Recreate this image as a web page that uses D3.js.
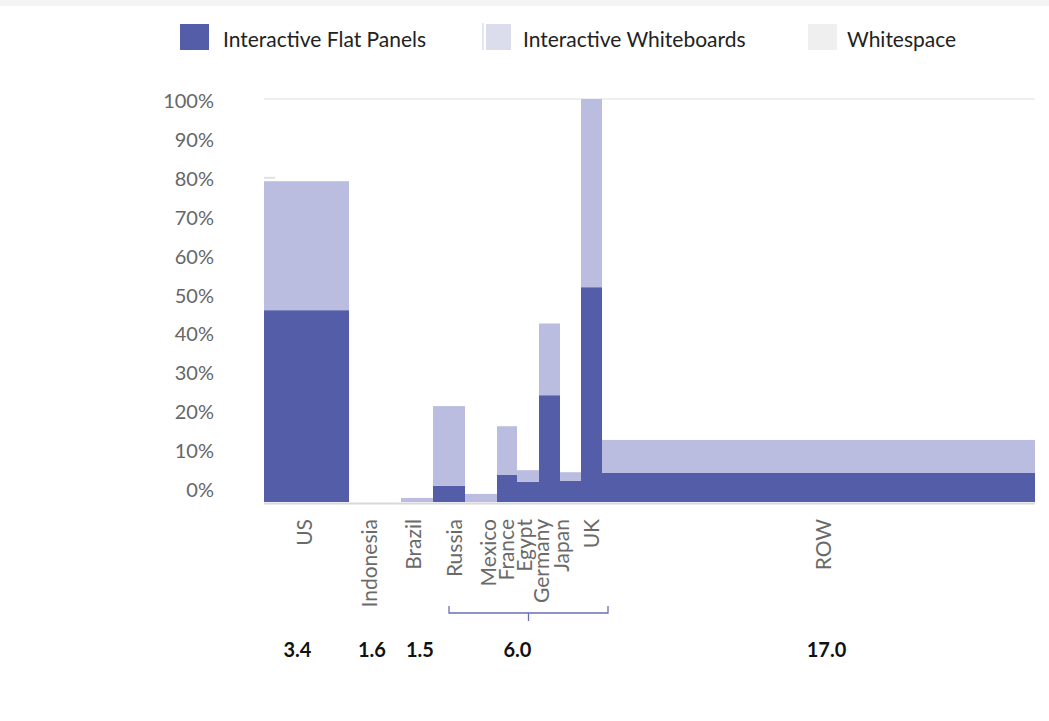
<!DOCTYPE html>
<html>
<head>
<meta charset="utf-8">
<script src="https://d3js.org/d3.v7.min.js"></script>
<style>
  body { margin: 0; background: #fff; }
  text { font-family: Lato, "Open Sans", sans-serif; }
</style>
</head>
<body>
<script>
  // data
  var countries = ["US", "Indonesia", "Brazil", "Russia", "Mexico", "France", "Egypt", "Germany", "Japan", "UK", "ROW"];
  var barWidths = [8.5, 5.2, 3.2, 3.2, 3.2, 2.0, 2.2, 2.1, 2.1, 2.1, 43.3];
  var flatPanels = [47.6, 0, 0, 4.0, 0, 6.7, 5.0, 26.5, 5.3, 53.3, 7.2];
  var whiteboards = [32.0, 0, 1.0, 19.8, 2.0, 12.1, 2.9, 17.8, 2.1, 46.7, 8.2];
  var groupTotals = ["3.4", "1.6", "1.5", "6.0", "17.0"];
  var groupFirst = [0, 1, 2, 3, 10];
  var groupLast = [0, 1, 2, 9, 10];
  var yTicks = [0, 10, 20, 30, 40, 50, 60, 70, 80, 90, 100];
  var legendNames = ["Interactive Flat Panels", "Interactive Whiteboards", "Whitespace"];

  var width = 1049, height = 721;
  var dark = "#535da8", light = "#babde0";

  var svg = d3.select("body").append("svg")
    .attr("width", width)
    .attr("height", height);

  // faint band at the very top
  svg.append("rect").attr("x", 0).attr("y", 0).attr("width", width).attr("height", 6).attr("fill", "#f4f4f4");

  // cumulative x positions for the mekko bars
  var starts = [];
  var acc = 0;
  barWidths.forEach(function (w) { starts.push(acc); acc += w; });

  var x = d3.scaleLinear().domain([0, acc]).range([264, 1035]);
  var y = d3.scaleLinear().domain([0, 100]).range([502, 99]);        // bars
  var yLab = d3.scaleLinear().domain([0, 100]).range([489, 100]);    // tick labels

  // top gridline + small stub
  svg.append("line").attr("x1", 264).attr("x2", 1035).attr("y1", yLab(100) - 1).attr("y2", yLab(100) - 1)
    .attr("stroke", "#dedede").attr("stroke-width", 1);
  svg.append("line").attr("x1", 264).attr("x2", 275).attr("y1", yLab(80)).attr("y2", yLab(80))
    .attr("stroke", "#e2e2e2").attr("stroke-width", 2);

  // y tick labels
  svg.append("g").selectAll("text")
    .data(yTicks)
    .enter()
    .append("text")
    .attr("x", 214)
    .attr("y", function (d) { return yLab(d); })
    .attr("text-anchor", "end")
    .attr("dominant-baseline", "central")
    .style("font-size", "20px")
    .style("fill", "#666")
    .text(function (d) { return d + "%"; });

  // baseline
  svg.append("line").attr("x1", 264).attr("x2", 1035).attr("y1", 503.5).attr("y2", 503.5)
    .attr("stroke", "#d8d8de").attr("stroke-width", 2);

  var bars = svg.append("g");
  // flat panels (bottom)
  bars.selectAll("rect.fp")
    .data(countries)
    .enter()
    .append("rect")
    .attr("class", "fp")
    .attr("x", function (d, i) { return x(starts[i]); })
    .attr("width", function (d, i) { return x(starts[i] + barWidths[i]) - x(starts[i]); })
    .attr("y", function (d, i) { return y(flatPanels[i]); })
    .attr("height", function (d, i) { return y(0) - y(flatPanels[i]); })
    .attr("fill", dark);
  // whiteboards stacked on top
  bars.selectAll("rect.wb")
    .data(countries)
    .enter()
    .append("rect")
    .attr("class", "wb")
    .attr("x", function (d, i) { return x(starts[i]); })
    .attr("width", function (d, i) { return x(starts[i] + barWidths[i]) - x(starts[i]); })
    .attr("y", function (d, i) { return y(flatPanels[i] + whiteboards[i]); })
    .attr("height", function (d, i) { return y(flatPanels[i]) - y(flatPanels[i] + whiteboards[i]); })
    .attr("fill", light);

  // country labels, rotated
  var labelNudge = [-3.5, -7, -5, 4, 6, -2, -5, -9.5, -10.5, -1.5, 3.5];
  svg.append("g").selectAll("text")
    .data(countries)
    .enter()
    .append("text")
    .attr("transform", function (d, i) {
      var cx = x(starts[i] + barWidths[i] / 2) + labelNudge[i];
      return "translate(" + cx + ",519) rotate(-90)";
    })
    .attr("text-anchor", "end")
    .attr("dominant-baseline", "central")
    .style("font-size", "21px")
    .style("fill", "#6a6a6a")
    .text(function (d) { return d; });

  // bracket for the grouped countries
  groupFirst.forEach(function (f, g) {
    var l = groupLast[g];
    if (l === f) return;
    var x1 = x(starts[f] + barWidths[f] / 2);
    var x2 = x(starts[l] + barWidths[l]) + 6;
    var xm = (x1 + x2) / 2;
    svg.append("path")
      .attr("d", "M" + x1 + ",606 V613 H" + x2 + " V606 M" + xm + ",613 V621")
      .attr("fill", "none")
      .attr("stroke", "#6870b4")
      .attr("stroke-width", 1.3);
  });

  // group totals
  var totalNudge = [-9, -3, 3, 0, 8];
  svg.append("g").selectAll("text")
    .data(groupTotals)
    .enter()
    .append("text")
    .attr("x", function (d, g) {
      var a = x(starts[groupFirst[g]]);
      var b = x(starts[groupLast[g]] + barWidths[groupLast[g]]);
      return (a + b) / 2 + totalNudge[g];
    })
    .attr("y", 649)
    .attr("text-anchor", "middle")
    .attr("dominant-baseline", "central")
    .style("font-size", "20px")
    .style("font-weight", "bold")
    .style("fill", "#111")
    .text(function (d) { return d; });

  // legend
  var legendColors = [dark, "#dcddec", "#efefef"];
  var legendX = [180, 486, 808];
  var legendTextX = [223, 523, 847];
  var legend = svg.append("g");
  legendNames.forEach(function (name, i) {
    legend.append("rect")
      .attr("x", legendX[i]).attr("y", 24)
      .attr("width", i === 1 ? 25 : 29).attr("height", 26)
      .attr("fill", legendColors[i]);
    legend.append("text")
      .attr("x", legendTextX[i])
      .attr("y", 38)
      .attr("dominant-baseline", "central")
      .style("font-size", "21px")
      .style("fill", "#222")
      .text(name);
  });
  legend.append("line").attr("x1", 483).attr("x2", 483).attr("y1", 23).attr("y2", 50)
    .attr("stroke", "#dcddec").attr("stroke-width", 1.5);
</script>
</body>
</html>
